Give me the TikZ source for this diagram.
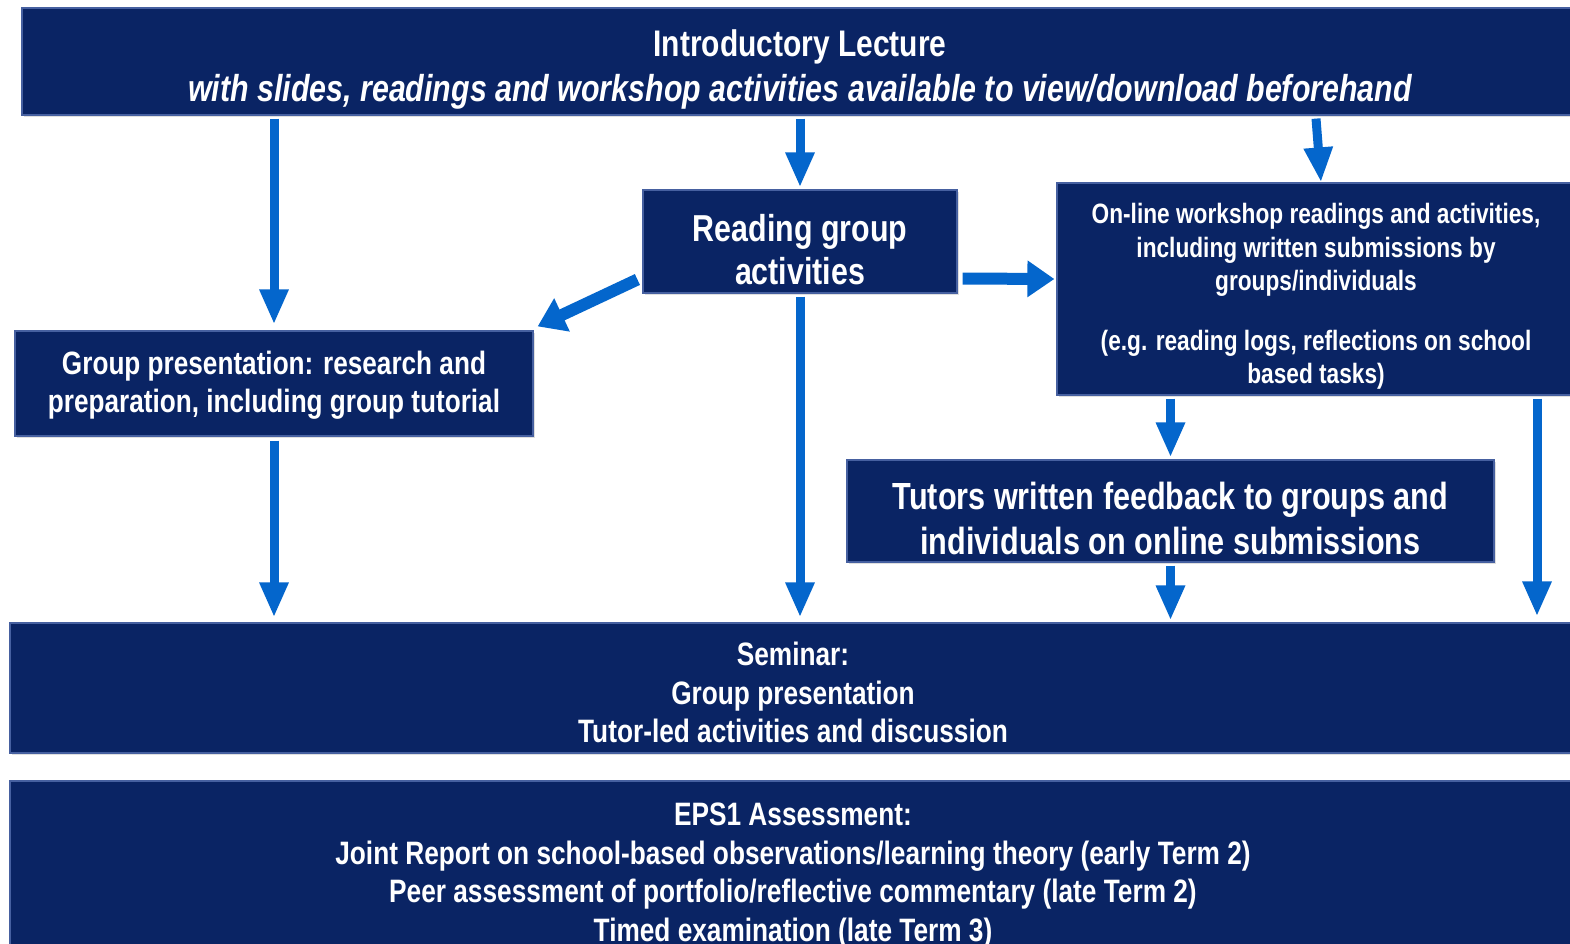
\documentclass[tikz,border=0pt]{standalone}
\usepackage{fontspec}
\setmainfont{Liberation Sans}[FakeStretch=0.81]
\usepackage{xcolor}
\usetikzlibrary{positioning,arrows.meta,shadows}
\definecolor{boxnavy}{RGB}{10,36,100}
\definecolor{boxedge}{RGB}{70,96,160}
\definecolor{arblue}{RGB}{4,102,204}
\newcommand{\dropby}[1]{\rule{0pt}{\dimexpr0.76em+#1\relax}}

\begin{document}
\begin{tikzpicture}[x=1pt, y=-1pt,
  blk/.style={draw=boxedge, line width=1.2pt, fill=boxnavy, text=white, align=center,
              inner sep=0pt,
              drop shadow={shadow xshift=2pt, shadow yshift=-2pt, opacity=0.25}},
  fs/.style 2 args={font=\bfseries\fontsize{#1}{#2}\selectfont},
  ar/.style={arblue, line width=9pt, -{Triangle[length=35pt, width=27pt]}},
  arside/.style={arblue, line width=12pt, -{Triangle[length=27pt, width=35pt]}}]
\useasboundingbox (0,0) rectangle (1570,943);
\clip (0,0) rectangle (1570,943);
\node[blk, fs={37}{45}, minimum width=1556pt, minimum height=107pt] (intro) at (800,61.5)
  {\dropby{14pt}Introductory Lecture\\
   \itshape\fontsize{37.5}{45}\selectfont with slides, readings and workshop activities available to view/download beforehand};
\node[blk, fs={37.5}{43}, minimum width=314pt, minimum height=103pt] (read) at (800,241.5)
  {\dropby{14pt}Reading group\\activities};
\node[blk, fs={28}{33.5}, minimum width=518pt, minimum height=212pt] (online) at (1316,289)
  {\dropby{14pt}On-line workshop readings and activities,\\
   including written submissions by\\groups/individuals\\[26pt]
   (e.g. reading logs, reflections on school\\based tasks)};
\node[blk, fs={32.3}{38}, minimum width=518pt, minimum height=105pt] (grp) at (274,383.5)
  {\dropby{2pt}Group presentation: research and\\
   preparation, including group tutorial};
\node[blk, fs={37.8}{45}, minimum width=647pt, minimum height=102pt] (tut) at (1170.5,511)
  {\dropby{14pt}Tutors written feedback to groups and\\
   individuals on online submissions};
\node[blk, fs={32.4}{38.5}, minimum width=1566pt, minimum height=130pt] (sem) at (793,688)
  {\dropby{8pt}Seminar:\\Group presentation\\Tutor-led activities and discussion};
\node[blk, fs={32.4}{38.4}, minimum width=1566pt, minimum height=180pt] (eps) at (793,871)
  {\dropby{7pt}EPS1 Assessment:\\
   Joint Report on school-based observations/learning theory (early Term 2)\\
   Peer assessment of portfolio/reflective commentary (late Term 2)\\
   Timed examination (late Term 3)};
\draw[ar] ([yshift=-3pt]intro.south -| grp.north) -- ([yshift=6pt]grp.north);
\draw[ar] ([yshift=-3pt]intro.south -| read.north) -- ([yshift=2pt]read.north);
\draw[ar] ([yshift=-3pt]intro.south -| online.north) -- ([xshift=5pt]online.north);
\draw[arside] ([xshift=-5pt,yshift=-38pt]read.west) -- ([xshift=4pt,yshift=4pt]grp.north east);
\draw[arside] ([xshift=5pt,yshift=-37pt]read.east) -- ([xshift=-2pt,yshift=10pt]online.west);
\draw[ar] ([yshift=-3pt]read.south) -- ([yshift=5pt]read.south |- sem.north);
\draw[ar] ([yshift=-4pt]grp.south) -- ([yshift=5pt]grp.south |- sem.north);
\draw[ar] ([yshift=-3pt]online.south -| tut.north) -- ([yshift=2pt]tut.north);
\draw[ar] ([yshift=-3pt]tut.south) -- ([yshift=2pt]tut.south |- sem.north);
\draw[ar] ([xshift=221pt,yshift=-3pt]online.south) -- ([xshift=221pt,yshift=6pt]online.south |- sem.north);
\end{tikzpicture}
\end{document}
